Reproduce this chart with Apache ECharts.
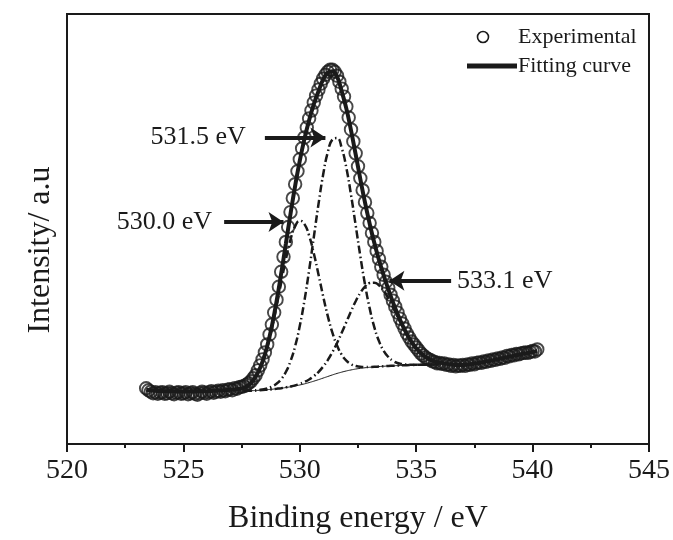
<!DOCTYPE html>
<html>
<head>
<meta charset="utf-8">
<script src="https://cdn.jsdelivr.net/npm/echarts/dist/echarts.min.js"></script>
<style>
  html, body { margin: 0; padding: 0; background: #ffffff; }
  #chart { width: 673px; height: 540px; }
</style>
</head>
<body>
<div id="chart"></div>
<script>
// O 1s spectrum: binding energy (eV) and intensity (arbitrary units)
const energy = [
  523.4, 523.5, 523.6, 523.7, 523.8, 523.9, 524.0, 524.1, 524.2, 524.3,
  524.4, 524.5, 524.6, 524.7, 524.8, 524.9, 525.0, 525.1, 525.2, 525.3,
  525.4, 525.5, 525.6, 525.7, 525.8, 525.9, 526.0, 526.1, 526.2, 526.3,
  526.4, 526.5, 526.6, 526.7, 526.8, 526.9, 527.0, 527.1, 527.2, 527.3,
  527.4, 527.5, 527.6, 527.7, 527.8, 527.9, 528.0, 528.1, 528.2, 528.3,
  528.4, 528.5, 528.6, 528.7, 528.8, 528.9, 529.0, 529.1, 529.2, 529.3,
  529.4, 529.5, 529.6, 529.7, 529.8, 529.9, 530.0, 530.1, 530.2, 530.3,
  530.4, 530.5, 530.6, 530.7, 530.8, 530.9, 531.0, 531.1, 531.2, 531.3,
  531.4, 531.5, 531.6, 531.7, 531.8, 531.9, 532.0, 532.1, 532.2, 532.3,
  532.4, 532.5, 532.6, 532.7, 532.8, 532.9, 533.0, 533.1, 533.2, 533.3,
  533.4, 533.5, 533.6, 533.7, 533.8, 533.9, 534.0, 534.1, 534.2, 534.3,
  534.4, 534.5, 534.6, 534.7, 534.8, 534.9, 535.0, 535.1, 535.2, 535.3,
  535.4, 535.5, 535.6, 535.7, 535.8, 535.9, 536.0, 536.1, 536.2, 536.3,
  536.4, 536.5, 536.6, 536.7, 536.8, 536.9, 537.0, 537.1, 537.2, 537.3,
  537.4, 537.5, 537.6, 537.7, 537.8, 537.9, 538.0, 538.1, 538.2, 538.3,
  538.4, 538.5, 538.6, 538.7, 538.8, 538.9, 539.0, 539.1, 539.2, 539.3,
  539.4, 539.5, 539.6, 539.7, 539.8, 539.9, 540.0, 540.1, 540.2
];
const measured = [
  56, 54, 52.5, 51, 52, 50.5, 51.5, 52, 50.5, 51,
  52.5, 51, 50, 51.5, 52, 50.5, 51, 52, 50, 51,
  52, 50.5, 49.5, 51, 52.5, 51.5, 50.5, 52, 53, 51.5,
  52.5, 53.5, 52.5, 54, 53, 54.5, 55, 54, 56, 55.5,
  57, 57.5, 58, 59.5, 61, 63, 66, 69, 74, 79,
  85, 92, 100, 110, 120, 132, 145, 158, 173, 188,
  203, 218, 233, 247, 261, 274, 286, 297, 308, 318,
  327, 335, 343, 350, 356, 362, 367, 371, 374, 376,
  376, 374, 370, 364, 357, 349, 339, 328, 316, 304,
  292, 279, 267, 255, 243, 232, 222, 212, 203, 194,
  186, 178, 170, 163, 157, 150, 144, 138, 132, 126,
  121, 116, 111, 107, 103, 100, 97, 94, 91, 89,
  87, 85.5, 84.5, 83, 82.5, 81, 81.5, 80.5, 81, 79.5,
  80, 78.5, 79.5, 78, 79, 78.5, 79.5, 78.5, 80, 79.5,
  81, 80, 81.5, 82, 81.5, 83, 82.5, 84, 83.5, 85,
  84.5, 86, 85.5, 87, 86.5, 88.5, 88, 89.5, 89, 90.5,
  90, 91, 91.5, 92, 91.5, 92.5, 93.5, 93, 95
];

// Fitted envelope
const fitEnergy = [
  523.4, 523.6, 523.8, 524.0, 524.2, 524.4, 524.6, 524.8, 525.0, 525.2,
  525.4, 525.6, 525.8, 526.0, 526.2, 526.4, 526.6, 526.8, 527.0, 527.2,
  527.4, 527.6, 527.8, 528.0, 528.2, 528.4, 528.6, 528.8, 529.0, 529.2,
  529.4, 529.6, 529.8, 530.0, 530.2, 530.4, 530.6, 530.8, 531.0, 531.2,
  531.4, 531.6, 531.8, 532.0, 532.2, 532.4, 532.6, 532.8, 533.0, 533.2,
  533.4, 533.6, 533.8, 534.0, 534.2, 534.4, 534.6, 534.8, 535.0, 535.2,
  535.4, 535.6, 535.8, 536.0, 536.2, 536.4, 536.6, 536.8, 537.0, 537.2,
  537.4, 537.6, 537.8, 538.0, 538.2, 538.4, 538.6, 538.8, 539.0, 539.2,
  539.4, 539.6, 539.8, 540.0, 540.2
];
const fitted = [
  54.5, 54, 53.6, 53.3, 53.1, 53, 52.9, 52.8, 52.8, 52.8,
  52.8, 52.9, 53, 53.1, 53.3, 53.5, 53.8, 54.1, 54.4, 54.8,
  55.4, 56.3, 59.2, 64.1, 71.7, 82.9, 98.4, 118.5, 143.1, 171.2,
  201.1, 231.1, 259.4, 284.8, 306.6, 325.3, 341.1, 354.2, 366, 373,
  374.5, 369, 354.3, 336.9, 315, 290.9, 266.2, 242.7, 221.4, 202.1,
  185, 169.6, 155.6, 142.5, 130.5, 119.8, 110.4, 102.6, 96.1, 91.1,
  87.4, 84.8, 83, 81.9, 81, 80.2, 79.6, 79.3, 79.4, 79.8,
  80.4, 81.1, 81.9, 82.8, 83.7, 84.7, 85.7, 86.7, 87.7, 88.7,
  89.7, 90.6, 91.5, 92.4, 93.3
];

// Background and the three fitted components (each drawn on the background)
const componentEnergy = [
  527.6, 527.8, 528.0, 528.2, 528.4, 528.6, 528.8, 529.0, 529.2, 529.4,
  529.6, 529.8, 530.0, 530.2, 530.4, 530.6, 530.8, 531.0, 531.2, 531.4,
  531.6, 531.8, 532.0, 532.2, 532.4, 532.6, 532.8, 533.0, 533.2, 533.4,
  533.6, 533.8, 534.0, 534.2, 534.4, 534.6, 534.8, 535.0, 535.2, 535.4,
  535.6, 535.8, 536.0
];
const background = [
  53.2, 53.4, 53.6, 53.9, 54.2, 54.6, 55, 55.5, 56, 56.7,
  57.5, 58.3, 59.3, 60.4, 61.7, 63.1, 64.6, 66.2, 67.8, 69.4,
  70.9, 72.2, 73.4, 74.4, 75.3, 76, 76.6, 77.1, 77.5, 77.8,
  78.1, 78.4, 78.6, 78.8, 79, 79.2, 79.4, 79.5, 79.6, 79.7,
  79.8, 79.9, 80
];
const peak530 = [
  56.3, 59.2, 64.0, 71.4, 82.3, 97.1, 115.9, 138.1, 162, 185.3,
  205.2, 218.8, 224.3, 220.9, 209.4, 191.7, 170.6, 148.8, 128.7, 111.9,
  99, 89.7, 83.8, 80.2, 78.4, 77.5, 77.3, 77.4, 77.5, 77.8,
  78.1, 78.4, 78.6, 78.8, 79, 79.2, 79.4, 79.5, 79.6, 79.7,
  79.8, 79.9, 80
];
const peak531 = [
  53.2, 53.4, 53.7, 54.2, 54.8, 55.9, 57.6, 60.5, 65.1, 72.3,
  83.1, 98.3, 118.7, 144.2, 174.5, 207.5, 240.5, 270.2, 292.9, 305.9,
  307.4, 297.3, 277.4, 250.3, 219.7, 188.8, 160.4, 136.5, 117.5, 103.4,
  93.7, 87.5, 83.6, 81.4, 80.3, 79.8, 79.7, 79.6, 79.6, 79.7,
  79.8, 79.9, 80
];
const peak533 = [
  53.2, 53.4, 53.6, 53.9, 54.2, 54.6, 55, 55.5, 56.1, 56.9,
  57.8, 58.9, 60.4, 62.3, 64.8, 68.1, 72.3, 77.7, 84.3, 92.3,
  101.5, 111.7, 122.5, 133.3, 143.4, 151.9, 158.2, 161.7, 162.1, 159.4,
  154, 146.5, 137.5, 127.9, 118.5, 109.8, 102.3, 96, 91.1, 87.4,
  84.8, 83, 81.9
];

// Peak annotations: label, arrow tail energy, arrow head energy, intensity
const peakNames = ['531.5 eV', '530.0 eV', '533.1 eV'];
const arrowFrom = [528.5, 526.75, 536.5];
const arrowTo   = [531.1, 529.3, 533.85];
const arrowLevel = [308, 223, 164];
const labelGap = [19, 12, 6];

const xMin = 520, xMax = 545, xStep = 5;
const yMin = 0, yMax = 432;

const ink = '#1a1a1a';
const serif = '"Liberation Serif", "Times New Roman", serif';

function pairs(xs, ys) { return xs.map((x, i) => [x, ys[i]]); }

const chart = echarts.init(document.getElementById('chart'), null, { renderer: 'canvas' });

const componentStyle = { color: ink, width: 2.5, type: [8, 3, 1.5, 3] };

chart.setOption({
  animation: false,
  backgroundColor: '#ffffff',
  grid: {
    left: 67, right: 22, top: 14, bottom: 94,
    show: true, borderColor: ink, borderWidth: 2, backgroundColor: 'transparent'
  },
  xAxis: {
    type: 'value', min: xMin, max: xMax, interval: xStep,
    name: 'Binding energy / eV', nameLocation: 'middle', nameGap: 59,
    nameTextStyle: { fontFamily: serif, fontSize: 32, color: ink },
    axisLine: { show: true, lineStyle: { color: ink, width: 2 } },
    axisTick: { show: true, inside: false, length: 8, lineStyle: { color: ink, width: 2 } },
    minorTick: { show: true, splitNumber: 2, length: 4, lineStyle: { color: ink, width: 2 } },
    axisLabel: { fontFamily: serif, fontSize: 28, color: ink, margin: 13 },
    splitLine: { show: false }
  },
  yAxis: {
    type: 'value', min: yMin, max: yMax,
    axisLine: { show: true, lineStyle: { color: ink, width: 2 } },
    axisTick: { show: false }, axisLabel: { show: false }, splitLine: { show: false }
  },
  graphic: [
    {
      type: 'text', x: 41, y: 250, rotation: Math.PI / 2,
      style: { text: 'Intensity/ a.u', font: '32px ' + serif, fill: ink,
               textAlign: 'center', textVerticalAlign: 'middle' }
    },
    {
      type: 'circle', shape: { cx: 483, cy: 37, r: 5.5 },
      style: { fill: 'none', stroke: ink, lineWidth: 1.6 }
    },
    {
      type: 'text', x: 518, y: 37,
      style: { text: 'Experimental', font: '22px ' + serif, fill: ink,
               textAlign: 'left', textVerticalAlign: 'middle' }
    },
    {
      type: 'line', shape: { x1: 467, y1: 66, x2: 517, y2: 66 },
      style: { stroke: ink, lineWidth: 5 }
    },
    {
      type: 'text', x: 518, y: 66,
      style: { text: 'Fitting curve', font: '22px ' + serif, fill: ink,
               textAlign: 'left', textVerticalAlign: 'middle' }
    }
  ],
  series: [
    {
      name: 'Experimental', type: 'scatter', z: 2,
      data: pairs(energy, measured),
      symbol: 'circle', symbolSize: 12.5,
      itemStyle: { color: 'rgba(0,0,0,0)', borderColor: ink, borderWidth: 1.9 }
    },
    {
      name: 'Background', type: 'line', z: 3, smooth: true, showSymbol: false,
      data: pairs(componentEnergy, background),
      lineStyle: { color: ink, width: 1 }
    },
    {
      name: '530.0 eV', type: 'line', z: 3, smooth: true, showSymbol: false,
      data: pairs(componentEnergy, peak530), lineStyle: componentStyle
    },
    {
      name: '531.5 eV', type: 'line', z: 3, smooth: true, showSymbol: false,
      data: pairs(componentEnergy, peak531), lineStyle: componentStyle
    },
    {
      name: '533.1 eV', type: 'line', z: 3, smooth: true, showSymbol: false,
      data: pairs(componentEnergy, peak533), lineStyle: componentStyle
    },
    {
      name: 'Fitting curve', type: 'line', z: 4, smooth: true, showSymbol: false,
      data: pairs(fitEnergy, fitted),
      lineStyle: { color: ink, width: 4 },
      markLine: {
        silent: true, animation: false,
        symbol: ['none', 'arrow'], symbolSize: 15,
        lineStyle: { color: ink, width: 4, type: 'solid' },
        label: { show: true, position: 'start', formatter: '{b}',
                 fontFamily: serif, fontSize: 26, color: ink },
        emphasis: { disabled: true },
        data: peakNames.map((name, i) => [
          { name: name, coord: [arrowFrom[i], arrowLevel[i]],
            label: { distance: labelGap[i] } },
          { coord: [arrowTo[i], arrowLevel[i]] }
        ])
      }
    }
  ]
});
</script>
</body>
</html>
